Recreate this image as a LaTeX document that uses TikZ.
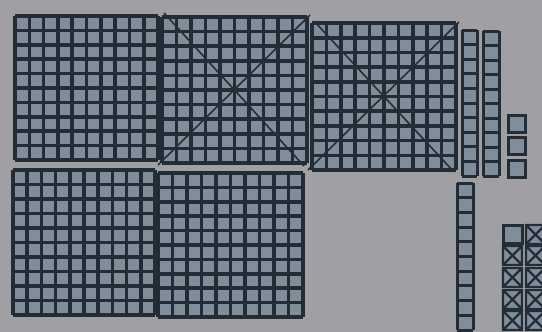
\documentclass[tikz,border=0pt]{standalone}
\definecolor{paper}{RGB}{160,160,164}
\definecolor{tile}{RGB}{128,142,156}
\definecolor{ink}{RGB}{36,44,54}
\begin{document}
\begin{tikzpicture}[x=1pt, y=-1pt,
    gridline/.style={draw=ink, line width=3.6pt},
    rodline/.style={draw=ink, line width=3pt},
    diag/.style={draw=ink, line width=1.6pt},
    onebox/.style={fill=tile, draw=ink, line width=3pt},
    crossbox/.style={fill=tile, draw=ink, line width=2.4pt}]
  \fill[paper] (0,0) rectangle (542,332);
  \clip (0,0) rectangle (542,332);
  % hundreds
  \foreach \xa/\ya/\xb/\yb in {15/16/158/160, 162/17/307/163, 312/23/456/170, 13/170/155/315, 158/173/303/317} {
    \begin{scope}[shift={(\xa,\ya)}, xscale={(\xb-\xa)/10}, yscale={(\yb-\ya)/10}]
      \fill[tile] (0,0) rectangle (10,10);
      \foreach \i in {0,...,10} \draw[gridline] (\i,0) -- (\i,10) (0,\i) -- (10,\i);
    \end{scope}
  }
  \draw[diag] (164,13) -- (304,166) (158,165) -- (310,15);
  \draw[diag] (314,21) -- (454,172) (308,170) -- (459,22);
  % tens
  \foreach \xa/\ya/\xb/\yb in {462/30/477/176, 483/31/499/176, 457/183/473/330} {
    \begin{scope}[shift={(\xa,\ya)}, xscale={\xb-\xa}, yscale={(\yb-\ya)/10}]
      \fill[tile] (0,0) rectangle (1,10);
      \draw[rodline] (0,0) -- (0,10) (1,0) -- (1,10);
      \foreach \i in {0,...,10} \draw[rodline] (0,\i) -- (1,\i);
    \end{scope}
  }
  % ones
  \foreach \ya in {115,137,160} \draw[onebox] (508,\ya) rectangle +(17,17);
  \draw[onebox] (503,225) rectangle +(19,18);
  \foreach \xa/\ya in {503/246, 503/268, 503/290, 503/311, 526/225, 526/246, 526/268, 526/290, 526/311}
    \draw[crossbox] (\xa,\ya) rectangle +(19,19) +(0,0) -- +(19,19) +(19,0) -- +(0,19);
\end{tikzpicture}
\end{document}
